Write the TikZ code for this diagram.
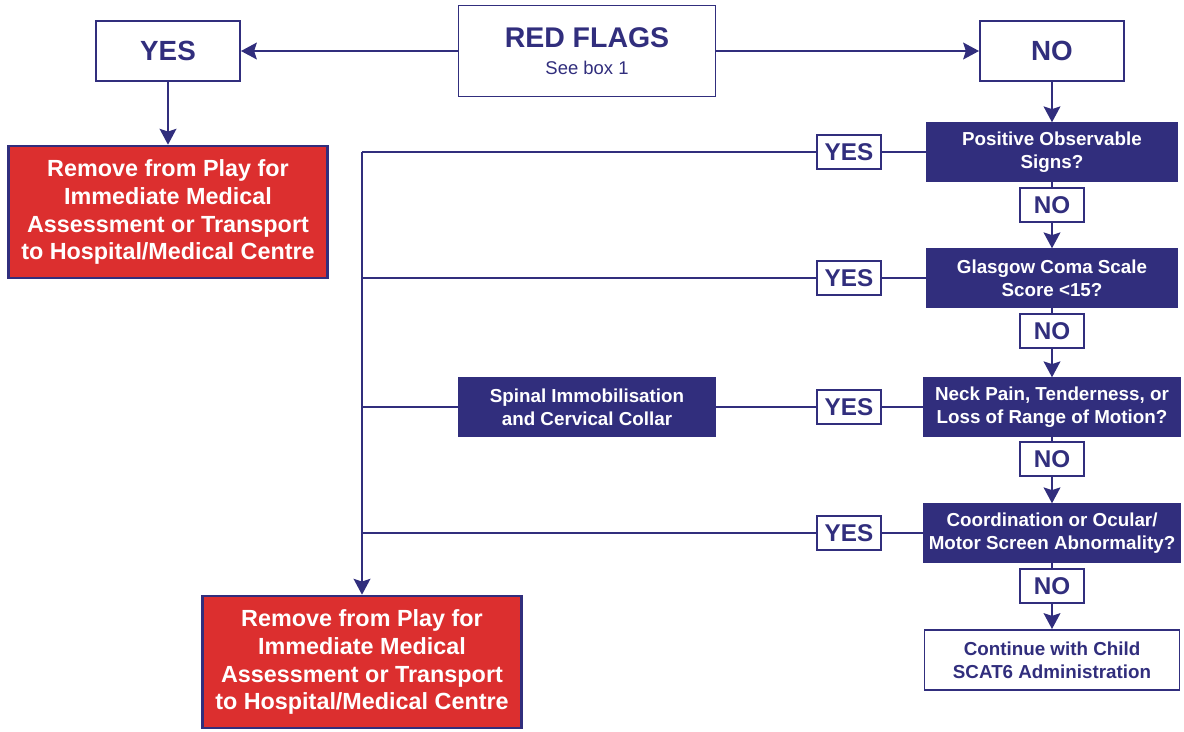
\documentclass[tikz,border=0pt]{standalone}
\usepackage{fontspec}
\setmainfont{Liberation Sans}
\usetikzlibrary{arrows.meta}
\definecolor{scatNavy}{HTML}{312E7D}
\definecolor{scatRed}{HTML}{DC2F2F}

\begin{document}
\begin{tikzpicture}[x=0.02cm,y=-0.02cm,
 answer/.style={draw=scatNavy,line width=1.1pt,fill=white,text=scatNavy,font=\fontsize{15.8}{18}\selectfont\bfseries,minimum width=2.88cm,minimum height=1.2cm,inner sep=0pt},
 remove/.style={draw=scatNavy,line width=1.5pt,fill=scatRed,text=white,font=\fontsize{13.3}{15.9}\selectfont\bfseries,align=center,minimum width=6.38cm,minimum height=2.64cm,inner sep=0pt},
 question/.style={draw=scatNavy,line width=0.8pt,fill=scatNavy,text=white,font=\fontsize{10.7}{13}\selectfont\bfseries,align=center,minimum width=5cm,minimum height=1.16cm,inner sep=0pt},
 finish/.style={draw=scatNavy,line width=1.1pt,fill=white,text=scatNavy,font=\fontsize{10.7}{13}\selectfont\bfseries,align=center,minimum width=5.1cm,minimum height=1.2cm,inner sep=0pt},
 tag/.style={draw=scatNavy,line width=0.9pt,fill=white,text=scatNavy,font=\fontsize{13.8}{15}\selectfont\bfseries,minimum width=1.28cm,minimum height=0.67cm,inner sep=0pt},
 link/.style={draw=scatNavy,line width=1.4pt},
 edge/.style={link,-{Stealth[length=9pt,width=9.5pt,inset=1.5pt]}}
]
\useasboundingbox (0,0) rectangle (1184,731);

% top row
\node[answer,minimum width=5.14cm,minimum height=1.82cm,align=center] (flags) at (587,51) {\fontsize{16.2}{18}\selectfont RED FLAGS\\[-3pt]{\fontsize{10.5}{12}\selectfont\mdseries See box 1}};
\node[answer] (yestop) at (168,51) {YES};
\node[answer] (notop) at (1052,51) {NO};
\draw[edge] (flags) -- (yestop);
\draw[edge] (flags) -- (notop);

\node[remove] (out1) at (168,212) {Remove from Play for\\Immediate Medical\\Assessment or Transport\\to Hospital/Medical Centre};
\draw[edge] (yestop) -- (out1);

% questions down the right
\node[question] (q1) at (1052,152) {Positive Observable\\Signs?};
\node[question] (q2) at (1052,278) {Glasgow Coma Scale\\Score <15?};
\node[question,minimum width=5.12cm] (q3) at (1052,407) {Neck Pain, Tenderness, or\\Loss of Range of Motion?};
\node[question,minimum width=5.12cm] (q4) at (1052,533) {Coordination or Ocular/\\Motor Screen Abnormality?};
\node[finish] (cont) at (1052,660) {Continue with Child\\SCAT6 Administration};

\node[tag] (no1) at (1052,205) {NO};
\node[tag] (no2) at (1052,331) {NO};
\node[tag] (no3) at (1052,459) {NO};
\node[tag] (no4) at (1052,586) {NO};

\draw[edge] (notop) -- (q1);
\draw[link] (q1) -- (no1); \draw[edge] (no1) -- (q2);
\draw[link] (q2) -- (no2); \draw[edge] (no2) -- (q3);
\draw[link] (q3) -- (no3); \draw[edge] (no3) -- (q4);
\draw[link] (q4) -- (no4); \draw[edge] (no4) -- (cont);

% yes branches to the left
\node[remove] (out2) at (362,662) {Remove from Play for\\Immediate Medical\\Assessment or Transport\\to Hospital/Medical Centre};
\node[question,minimum width=5.12cm,minimum height=1.18cm] (spine) at (587,407) {Spinal Immobilisation\\and Cervical Collar};

\node[tag] (yes1) at (849,152) {YES};
\node[tag] (yes2) at (849,278) {YES};
\node[tag] (yes3) at (849,407) {YES};
\node[tag] (yes4) at (849,533) {YES};

\draw[link] (q1) -- (yes1) -- (yes1 -| out2);
\draw[link] (q2) -- (yes2) -- (yes2 -| out2);
\draw[link] (q3) -- (yes3) -- (spine) -- (spine -| out2);
\draw[link] (q4) -- (yes4) -- (yes4 -| out2);
\draw[edge] (yes1 -| out2) -- (out2);
\end{tikzpicture}
\end{document}
